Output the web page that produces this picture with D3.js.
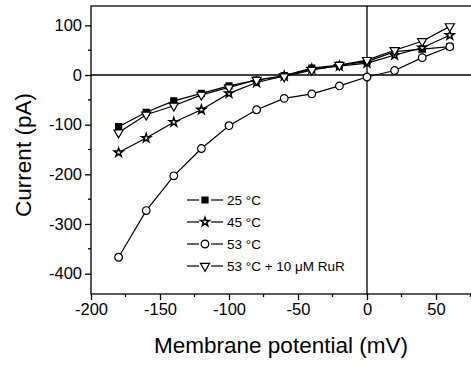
<!DOCTYPE html>
<html>
<head>
<meta charset="utf-8">
<script src="https://cdn.jsdelivr.net/npm/d3@7"></script>
<style>
  body { margin: 0; background: #fff; }
  text { font-family: "Liberation Sans", Arial, sans-serif; fill: #000; }
</style>
</head>
<body>
<div id="chart"></div>
<script>
// membrane potential (mV)
const potentials = [-180, -160, -140, -120, -100, -80, -60, -40, -20, 0, 20, 40, 60];
// current (pA) for each condition
const current25 = [-104, -75, -52, -37, -22, -10, -1, 14, 20, 27, 47, 52, 57];
const current45 = [-156, -127, -95, -70, -37, -15, -2, 12, 18, 24, 40, 55, 80];
const current53 = [-367, -273, -203, -148, -102, -70, -47, -38, -22, -4, 9, 35, 57];
const current53RuR = [-116, -80, -62, -40, -25, -10, -3, 10, 20, 30, 50, 68, 98];
const seriesNames = ['25 °C', '45 °C', '53 °C', '53 °C + 10 μM RuR'];
const seriesSymbols = ['square', 'star', 'circle', 'triangle'];
const xTicks = [-200, -150, -100, -50, 0, 50];
const yTicks = [-400, -300, -200, -100, 0, 100];

const width = 471, height = 365;
const margin = { top: 6, right: 0, bottom: 71, left: 91 };

const svg = d3.select('#chart').append('svg')
  .attr('width', width).attr('height', height);

const x = d3.scaleLinear().domain([-200, 76]).range([margin.left, margin.left + 276 * 1.38]);
const y = d3.scaleLinear().domain([-441, 139]).range([height - margin.bottom, margin.top]);

const allSeries = [current25, current45, current53, current53RuR].map((vals, i) => ({
  name: seriesNames[i],
  symbol: seriesSymbols[i],
  points: potentials.map((p, j) => ({ p, c: vals[j] }))
}));

// frame
svg.append('rect')
  .attr('x', x(-200)).attr('y', y(139))
  .attr('width', x(76) - x(-200)).attr('height', y(-441) - y(139))
  .attr('fill', 'none').attr('stroke', '#000').attr('stroke-width', 1.3);

// zero lines
svg.append('line')
  .attr('x1', x(-200)).attr('x2', x(76)).attr('y1', y(0)).attr('y2', y(0))
  .attr('stroke', '#000').attr('stroke-width', 1.3);
svg.append('line')
  .attr('x1', x(0)).attr('x2', x(0)).attr('y1', y(139)).attr('y2', y(-441))
  .attr('stroke', '#000').attr('stroke-width', 1.3);

// axes
const xAxis = svg.append('g')
  .attr('transform', `translate(0,${y(-441)})`)
  .call(d3.axisBottom(x).tickValues(xTicks).tickSize(6).tickPadding(3).tickFormat(d3.format('d')));
const yAxis = svg.append('g')
  .attr('transform', `translate(${x(-200)},0)`)
  .call(d3.axisLeft(y).tickValues(yTicks).tickSize(6).tickPadding(3).tickFormat(d3.format('d')));

[xAxis, yAxis].forEach(g => {
  g.select('.domain').remove();
  g.selectAll('line').attr('stroke', '#000').attr('stroke-width', 1.3);
  g.selectAll('text').attr('font-size', '16.5px')
    .style('font-family', '"Liberation Sans", Arial, sans-serif').attr('fill', '#000');
});
xAxis.selectAll('text').text(d => d < 0 ? '-' + Math.abs(d) : d);
yAxis.selectAll('text').text(d => d < 0 ? '-' + Math.abs(d) : d);

// minor ticks
svg.append('g').selectAll('line')
  .data([-175, -125, -75, -25, 25, 75])
  .enter().append('line')
  .attr('x1', d => x(d)).attr('x2', d => x(d))
  .attr('y1', y(-441)).attr('y2', y(-441) + 3)
  .attr('stroke', '#000').attr('stroke-width', 1.3);
svg.append('g').selectAll('line')
  .data([-350, -250, -150, -50, 50])
  .enter().append('line')
  .attr('x1', x(-200) - 3).attr('x2', x(-200))
  .attr('y1', d => y(d)).attr('y2', d => y(d))
  .attr('stroke', '#000').attr('stroke-width', 1.3);

// axis titles
svg.append('text')
  .attr('x', 281).attr('y', 353)
  .attr('text-anchor', 'middle').attr('font-size', '22.5px')
  .text('Membrane potential (mV)');
svg.append('text')
  .attr('transform', 'translate(31,155) rotate(-90)')
  .attr('text-anchor', 'middle').attr('font-size', '22.5px')
  .text('Current (pA)');

// symbols
const symbolType = {
  square: d3.symbolSquare,
  star: d3.symbolStar,
  circle: d3.symbolCircle,
  triangle: d3.symbolTriangle
};
const symbolSize = { square: 36, star: 24, circle: 46, triangle: 36 };
function drawSymbol(g, kind, cx, cy) {
  const path = d3.symbol().type(symbolType[kind]).size(symbolSize[kind]);
  let transform = `translate(${cx},${cy})`;
  if (kind === 'triangle') transform += ' rotate(180)';
  g.append('path')
    .attr('d', path())
    .attr('transform', transform)
    .attr('fill', kind === 'square' ? '#000' : '#fff')
    .attr('stroke', '#000')
    .attr('stroke-width', kind === 'star' ? 1.5 : 1.2);
}

const line = d3.line().x(d => x(d.p)).y(d => y(d.c));

allSeries.forEach(s => {
  svg.append('path')
    .datum(s.points)
    .attr('d', line)
    .attr('fill', 'none')
    .attr('stroke', '#000')
    .attr('stroke-width', 1.2);
});
allSeries.forEach(s => {
  const g = svg.append('g');
  s.points.forEach(d => drawSymbol(g, s.symbol, x(d.p), y(d.c)));
});

// legend
const legend = svg.append('g');
allSeries.forEach((s, i) => {
  const ly = 200 + i * 22;
  legend.append('line')
    .attr('x1', 187).attr('x2', 199).attr('y1', ly).attr('y2', ly)
    .attr('stroke', '#000').attr('stroke-width', 1.2);
  legend.append('line')
    .attr('x1', 211).attr('x2', 223).attr('y1', ly).attr('y2', ly)
    .attr('stroke', '#000').attr('stroke-width', 1.2);
  drawSymbol(legend, s.symbol, 205, ly);
  legend.append('text')
    .attr('x', 227).attr('y', ly + 5)
    .attr('font-size', '13.5px')
    .text(s.name);
});
</script>
</body>
</html>
